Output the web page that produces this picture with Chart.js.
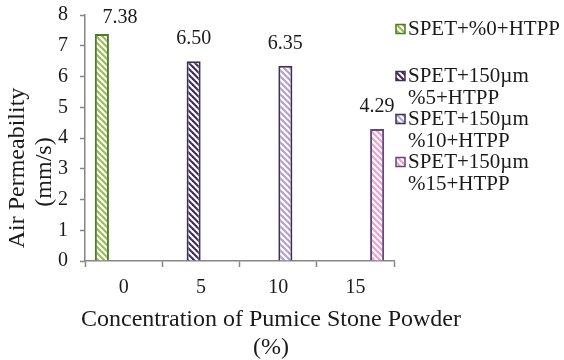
<!DOCTYPE html>
<html>
<head>
<meta charset="utf-8">
<script src="https://cdn.jsdelivr.net/npm/chart.js@4"></script>
<style>
  html, body { margin: 0; padding: 0; background: #fff; }
  #wrap { width: 564px; height: 360px; }
</style>
</head>
<body>
<div id="wrap"><canvas id="plot_air"></canvas></div>
<script>
// pumice stone powder content (%)
const categories = ['0', '5', '10', '15'];
// measured air permeability, mm/s
const airPermeability = [7.38, 6.50, 6.35, 4.29];
const seriesNames = [
    ['SPET+%0+HTPP'],
    ['SPET+150µm', '%5+HTPP'],
    ['SPET+150µm', '%10+HTPP'],
    ['SPET+150µm', '%15+HTPP']
];
const yTicks = [0, 1, 2, 3, 4, 5, 6, 7, 8];

const stripeColors = ['#9bbb59', '#403152', '#b3a2c7', '#f29fca'];
const edgeColors = ['#4f7a28', '#403152', '#403152', '#604a7b'];

const serif = "'Liberation Serif', 'Times New Roman', serif";

// diagonal hatch fill, like the office "wide downward diagonal" pattern
function hatch(color) {
    let c = document.createElement('canvas');
    c.width = 6;
    c.height = 6;
    let g = c.getContext('2d');
    g.fillStyle = '#fff';
    g.fillRect(0, 0, 6, 6);
    g.strokeStyle = color;
    g.lineWidth = 2.2;
    for (let x0 = -6; x0 <= 6; x0 += 6) {
        g.beginPath();
        g.moveTo(x0 - 1, -1);
        g.lineTo(x0 + 7, 7);
        g.stroke();
    }
    return g.createPattern(c, 'repeat');
}

// one dataset per sample, each with a single bar in its own category
let datasets = seriesNames.map(function (name, i) {
    return {
        label: name.join(' '),
        data: categories.map((c, j) => j === i ? airPermeability[i] : null),
        backgroundColor: hatch(stripeColors[i]),
        borderColor: edgeColors[i],
        borderWidth: 2,
        categoryPercentage: 0.75,
        barPercentage: 0.97
    };
});

const extras = {
    id: 'extras',
    afterDatasetsDraw(chart) {
        let ctx = chart.ctx;
        let area = chart.chartArea;
        ctx.save();
        ctx.fillStyle = '#1a1a1a';
        ctx.font = '20px ' + serif;
        ctx.textAlign = 'center';
        ctx.textBaseline = 'middle';
        // value labels above each bar
        chart.data.datasets.forEach(function (ds, i) {
            let meta = chart.getDatasetMeta(i);
            meta.data.forEach(function (bar, j) {
                let v = ds.data[j];
                if (v === null) return;
                let x = bar.x;
                let y = bar.y - 22;
                if (y < area.top + 3) {
                    y = area.top + 3;
                    x += bar.width + 4;
                }
                ctx.fillText(v.toFixed(2), x, y);
            });
        });

        // axis titles
        ctx.font = '24px ' + serif;
        ctx.fillText('Concentration of Pumice Stone Powder', 271, 320);
        ctx.fillText('(%)', 271, 348);
        ctx.save();
        ctx.translate(18, 168);
        ctx.rotate(-Math.PI / 2);
        ctx.fillText('Air Permeability', 0, 0);
        ctx.restore();
        ctx.save();
        ctx.translate(45, 172);
        ctx.rotate(-Math.PI / 2);
        ctx.fillText('(mm/s)', 0, 0);
        ctx.restore();

        // legend on the right
        ctx.font = '21px ' + serif;
        ctx.textAlign = 'left';
        let rows = [29, 76, 119, 162];
        seriesNames.forEach(function (lines, i) {
            let y = rows[i];
            ctx.fillStyle = chart.data.datasets[i].backgroundColor;
            ctx.fillRect(396, y - 4.5, 9, 9);
            ctx.strokeStyle = edgeColors[i];
            ctx.lineWidth = 1.5;
            ctx.strokeRect(396, y - 4.5, 9, 9);
            ctx.fillStyle = '#1a1a1a';
            lines.forEach(function (t, k) {
                ctx.fillText(t, 408, y + k * 22);
            });
        });
        ctx.restore();
    }
};

window.onload = function () {
    Chart.defaults.font.family = serif;
    Chart.defaults.color = '#1a1a1a';
    let ctx = document.getElementById('plot_air').getContext('2d');
    let plot_air = new Chart(ctx, {
        type: 'bar',
        data: {
            labels: categories,
            datasets: datasets
        },
        options: {
            responsive: true,
            maintainAspectRatio: false,
            animation: false,
            layout: {
                padding: {top: 15, right: 170, left: 0, bottom: 0}
            },
            plugins: {
                legend: {display: false},
                tooltip: {enabled: false}
            },
            scales: {
                x: {
                    grid: {
                        drawOnChartArea: false,
                        drawTicks: true,
                        tickLength: 6,
                        tickColor: '#868686',
                        tickWidth: 1.5,
                        offset: true
                    },
                    border: {color: '#868686', width: 1.5},
                    ticks: {font: {size: 20}, padding: 9, maxRotation: 0},
                    afterFit: function (scale) {
                        scale.height = 99;
                        scale.paddingLeft = 0;
                        scale.paddingRight = 0;
                    }
                },
                y: {
                    min: yTicks[0],
                    max: yTicks[yTicks.length - 1],
                    afterBuildTicks: function (scale) {
                        scale.ticks = yTicks.map(v => ({value: v}));
                    },
                    grid: {
                        drawOnChartArea: false,
                        drawTicks: true,
                        tickLength: 5,
                        tickColor: '#868686',
                        tickWidth: 1.5
                    },
                    border: {color: '#868686', width: 1.5},
                    ticks: {font: {size: 20}, padding: 12},
                    afterFit: function (scale) {
                        scale.width = 85;
                        scale.paddingTop = 0;
                        scale.paddingBottom = 0;
                    }
                }
            }
        },
        plugins: [extras]
    });
};
</script>
</body>
</html>
